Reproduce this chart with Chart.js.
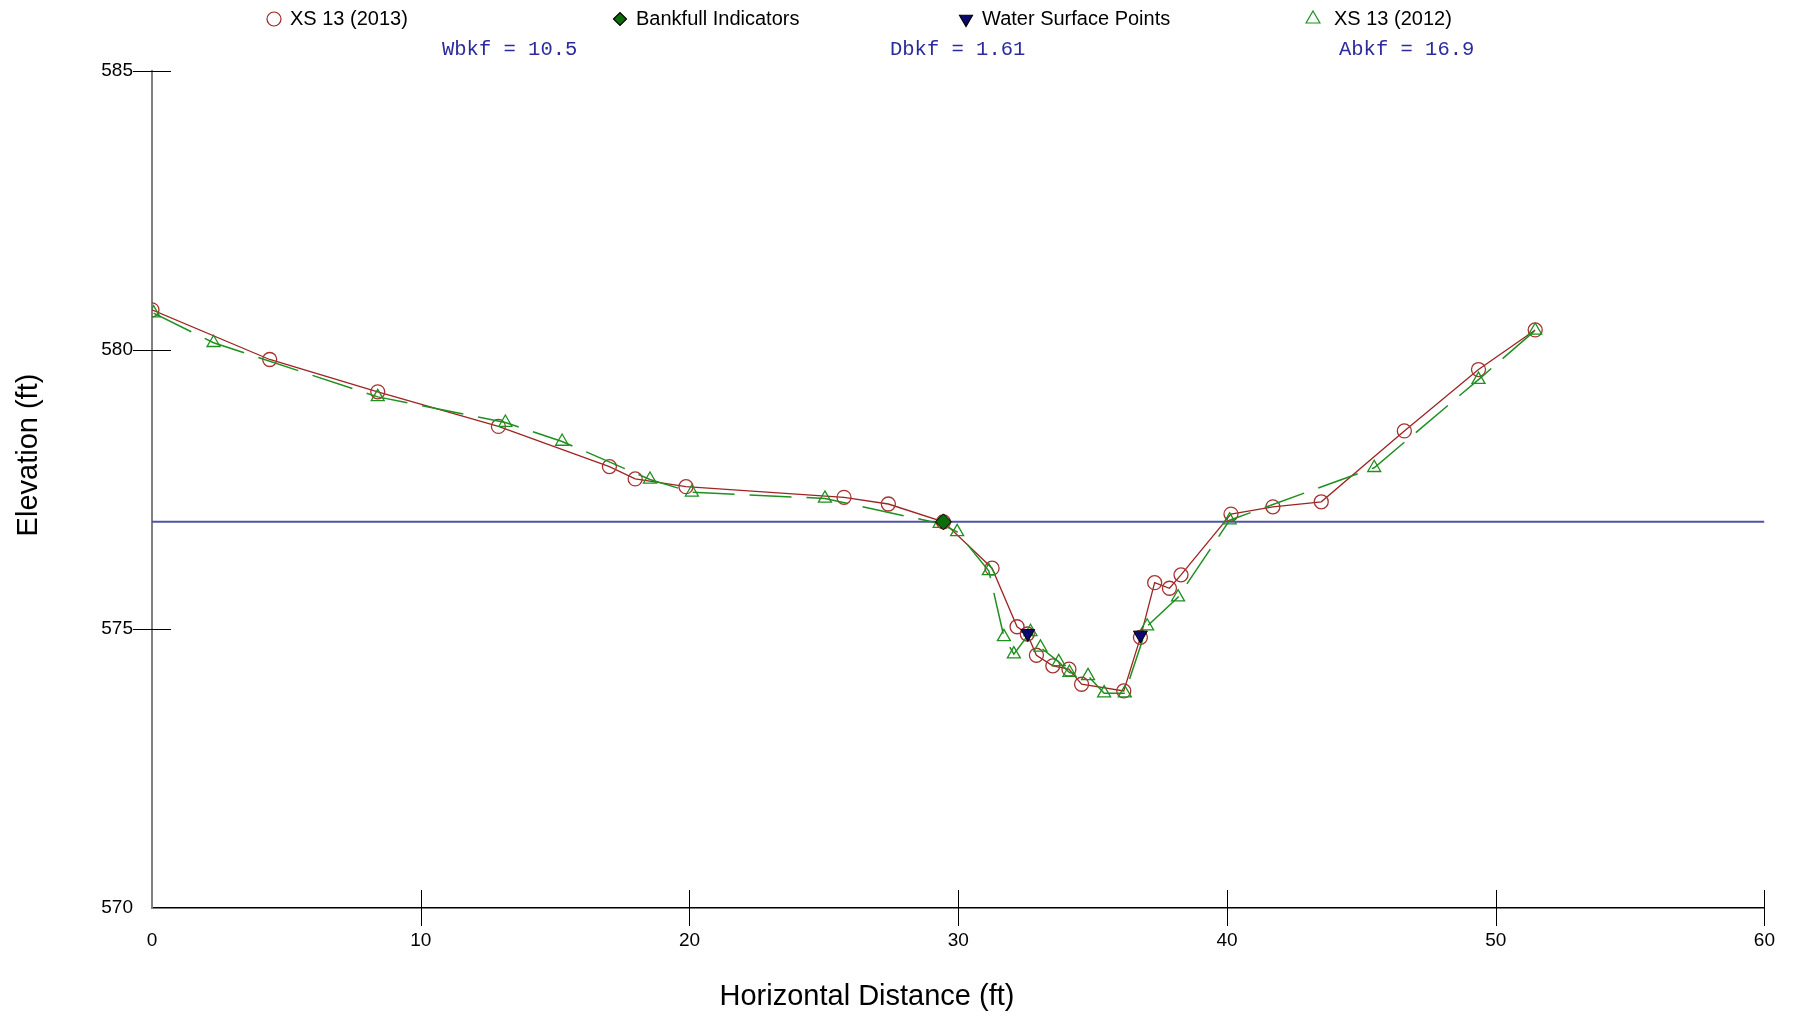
<!DOCTYPE html>
<html>
<head>
<meta charset="utf-8">
<script src="https://cdn.jsdelivr.net/npm/chart.js@4.4.0/dist/chart.umd.min.js"></script>
<style>
  html, body { margin: 0; padding: 0; background: #fff; }
  #wrap { width: 1796px; height: 1017px; }
</style>
</head>
<body>
<div id="wrap"><canvas id="xsChart" width="1796" height="1017"></canvas></div>
<script>
// Survey data
const xs2013 = [0, 4.38, 8.40, 12.89, 17.02, 17.98, 19.87, 25.75, 27.40, 29.45, 31.26, 32.19, 32.57, 32.91, 33.52, 34.12, 34.59, 36.16, 36.78, 37.31, 37.86, 38.29, 40.15, 41.71, 43.51, 46.60, 49.36, 51.47];
const elev2013 = [580.72, 579.83, 579.25, 578.63, 577.91, 577.69, 577.55, 577.36, 577.24, 576.92, 576.09, 575.04, 574.91, 574.53, 574.34, 574.28, 574.01, 573.89, 574.85, 575.83, 575.73, 575.97, 577.06, 577.19, 577.28, 578.55, 579.65, 580.36];

const xs2012 = [0.06, 2.29, 8.40, 13.15, 15.26, 18.53, 20.09, 25.04, 29.31, 29.96, 31.14, 31.70, 32.07, 32.69, 33.06, 33.74, 34.14, 34.83, 35.43, 36.20, 37.03, 38.18, 40.10, 45.48, 49.36, 51.47];
const elev2012 = [580.66, 580.13, 579.16, 578.70, 578.36, 577.68, 577.45, 577.34, 576.89, 576.74, 576.04, 574.86, 574.55, 574.95, 574.67, 574.41, 574.22, 574.16, 573.85, 573.85, 575.05, 575.57, 576.95, 577.89, 579.47, 580.35];

const bkfX = [29.45];
const bkfElev = [576.92];

const wsX = [32.59, 36.78];
const wsElev = [574.92, 574.89];

// bankfull stage line runs across the whole plot
const bkfLineX = [0, 60];
const bkfLineElev = [576.92, 576.92];

const xTicks = [0, 10, 20, 30, 40, 50, 60];
const yTicks = [570, 575, 580, 585];

const annotations = ['Wbkf = 10.5', 'Dbkf = 1.61', 'Abkf = 16.9'];

function pts(xArr, yArr) {
    return xArr.map((x, i) => ({ x: x, y: yArr[i] }));
}

const RED = '#9e2424';
const GREEN = '#1f8f1f';
const BLUE = '#5252a8';
const FONT = '"Liberation Sans", Arial, sans-serif';

// legend, annotations, axis titles and crossing tick marks
const topTextPlugin = {
    id: 'topText',
    afterDraw(chart) {
        const ctx = chart.ctx;
        const items = [
            { label: 'XS 13 (2013)', x: 274, gap: 16, style: 'circle', r: 7, fill: 'transparent', stroke: RED, rot: 0 },
            { label: 'Bankfull Indicators', x: 620, gap: 16, style: 'rectRot', r: 6.5, fill: '#0b6e0b', stroke: '#000', rot: 0 },
            { label: 'Water Surface Points', x: 966, gap: 16, style: 'triangle', r: 7.5, fill: '#0a0a6e', stroke: '#000', rot: 180 },
            { label: 'XS 13 (2012)', x: 1313, gap: 21, style: 'triangle', r: 8, fill: 'transparent', stroke: GREEN, rot: 0 }
        ];
        ctx.save();
        items.forEach(it => {
            ctx.fillStyle = it.fill;
            ctx.strokeStyle = it.stroke;
            ctx.lineWidth = 1.2;
            Chart.helpers.drawPoint(ctx, { pointStyle: it.style, radius: it.r, rotation: it.rot, borderWidth: 1.2 }, it.x, 19);
            ctx.fillStyle = '#000';
            ctx.font = '20px ' + FONT;
            ctx.textAlign = 'left';
            ctx.textBaseline = 'middle';
            ctx.fillText(it.label, it.x + it.gap, 19);
        });

        ctx.fillStyle = '#2b2b9e';
        ctx.font = '20.5px "Liberation Mono", "Courier New", monospace';
        ctx.textBaseline = 'middle';
        const ax = [442, 890, 1339];
        annotations.forEach((t, i) => ctx.fillText(t, ax[i], 50));

        // axis titles
        ctx.fillStyle = '#000';
        ctx.font = '29px ' + FONT;
        ctx.textAlign = 'center';
        ctx.textBaseline = 'middle';
        ctx.fillText('Horizontal Distance (ft)', 867, 997);
        ctx.save();
        ctx.translate(29, 455);
        ctx.rotate(-Math.PI / 2);
        ctx.fillText('Elevation (ft)', 0, 0);
        ctx.restore();

        // tick marks crossing the axes
        const xs = chart.scales.x, ys = chart.scales.y;
        ctx.strokeStyle = '#000';
        ctx.lineWidth = 1;
        ctx.beginPath();
        xTicks.forEach(v => {
            if (v === 0) return;
            const px = Math.round(xs.getPixelForValue(v)) + 0.5;
            ctx.moveTo(px, ys.bottom - 18);
            ctx.lineTo(px, ys.bottom + 18);
        });
        yTicks.forEach(v => {
            if (v === 570) return;
            const py = Math.round(ys.getPixelForValue(v)) + 0.5;
            ctx.moveTo(xs.left - 19, py);
            ctx.lineTo(xs.left + 19, py);
        });
        ctx.stroke();
        ctx.restore();
    }
};

const ctx = document.getElementById('xsChart').getContext('2d');

new Chart(ctx, {
    type: 'scatter',
    data: {
        datasets: [
            {
                label: 'Water Surface Points',
                data: pts(wsX, wsElev),
                pointStyle: 'triangle',
                rotation: 180,
                pointRadius: 8,
                pointBackgroundColor: '#0a0a6e',
                pointBorderColor: '#000',
                pointBorderWidth: 1,
                showLine: false,
                order: 0
            },
            {
                label: 'Bankfull Indicators',
                data: pts(bkfX, bkfElev),
                pointStyle: 'rectRot',
                pointRadius: 8,
                pointBackgroundColor: '#0b6e0b',
                pointBorderColor: '#000',
                pointBorderWidth: 1,
                showLine: false,
                order: 1
            },
            {
                label: 'XS 13 (2012)',
                data: pts(xs2012, elev2012),
                showLine: true,
                borderColor: GREEN,
                borderWidth: 1.5,
                borderDash: [42, 15],
                pointStyle: 'triangle',
                pointRadius: 7.5,
                pointBackgroundColor: 'transparent',
                pointBorderColor: GREEN,
                pointBorderWidth: 1.3,
                order: 2
            },
            {
                label: 'XS 13 (2013)',
                data: pts(xs2013, elev2013),
                showLine: true,
                borderColor: RED,
                borderWidth: 1.3,
                pointStyle: 'circle',
                pointRadius: 7,
                pointBackgroundColor: 'transparent',
                pointBorderColor: '#a83232',
                pointBorderWidth: 1.3,
                order: 3
            },
            {
                label: 'Bankfull',
                data: pts(bkfLineX, bkfLineElev),
                showLine: true,
                borderColor: BLUE,
                borderWidth: 2,
                pointRadius: 0,
                order: 4
            }
        ]
    },
    options: {
        responsive: false,
        animation: false,
        devicePixelRatio: 1,
        layout: { padding: { top: 71, right: 30, bottom: 0, left: 0 } },
        plugins: {
            legend: { display: false },
            tooltip: { enabled: false }
        },
        scales: {
            x: {
                type: 'linear',
                min: 0,
                max: 60,
                afterBuildTicks: (axis) => { axis.ticks = xTicks.map(v => ({ value: v })); },
                afterFit: (axis) => { axis.height = 109; },
                grid: { display: false, drawTicks: false },
                border: { display: true, color: '#000', width: 1.5 },
                ticks: {
                    color: '#000',
                    padding: 21,
                    font: { size: 19, family: FONT },
                    maxRotation: 0
                },
                title: { display: false }
            },
            y: {
                type: 'linear',
                min: 570,
                max: 585,
                afterBuildTicks: (axis) => { axis.ticks = yTicks.map(v => ({ value: v })); },
                afterFit: (axis) => { axis.width = 152; },
                grid: { display: false, drawTicks: false },
                border: { display: true, color: '#808080', width: 2 },
                ticks: {
                    color: '#000',
                    padding: 19,
                    font: { size: 19, family: FONT }
                },
                title: { display: false }
            }
        }
    },
    plugins: [topTextPlugin]
});
</script>
</body>
</html>
